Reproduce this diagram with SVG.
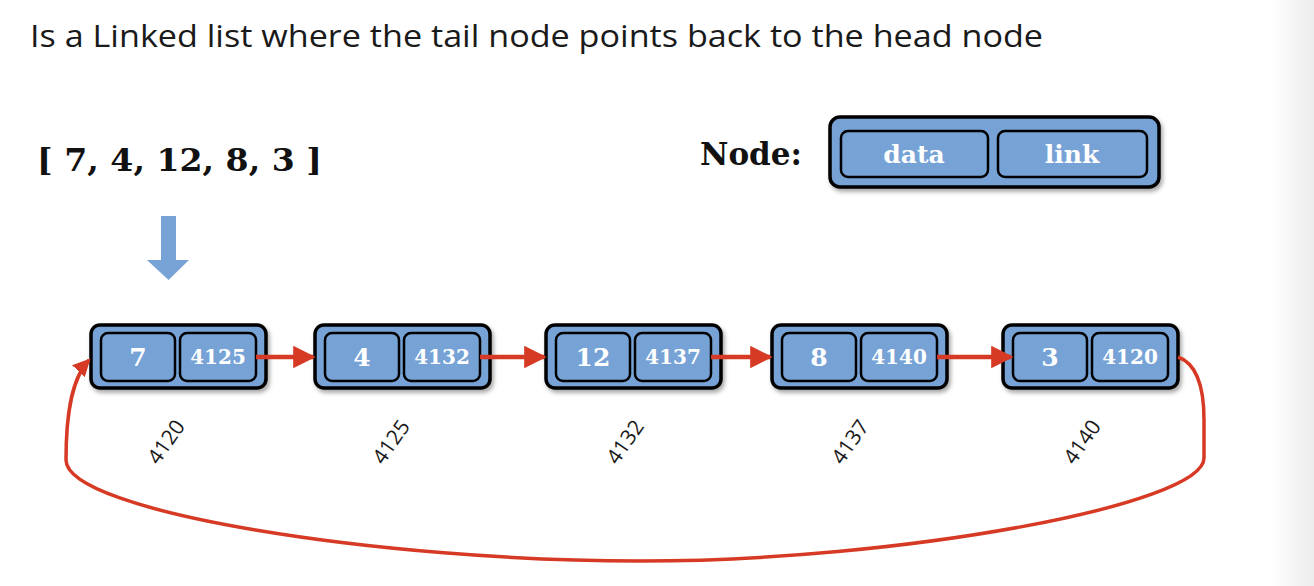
<svg xmlns="http://www.w3.org/2000/svg" width="1314" height="586" viewBox="0 0 1314 586">
<defs>
  <linearGradient id="edge" x1="0" y1="0" x2="1" y2="0">
    <stop offset="0" stop-color="#ffffff"/>
    <stop offset="1" stop-color="#ececec"/>
  </linearGradient>
  <filter id="sh" x="-10%" y="-20%" width="120%" height="150%">
    <feDropShadow dx="2" dy="3" stdDeviation="2" flood-color="#000" flood-opacity="0.35"/>
  </filter>
  <marker id="ah" markerWidth="5" markerHeight="5" refX="4.4" refY="2.5" orient="auto" markerUnits="strokeWidth">
    <path d="M0,0 L5,2.5 L0,5 Z" fill="#d63a24"/>
  </marker>
  <marker id="ah2" markerWidth="5" markerHeight="5" refX="4.4" refY="2.5" orient="auto" markerUnits="strokeWidth">
    <path d="M0,0 L5,2.5 L0,5 Z" fill="#d63a24"/>
  </marker>
  <style>
    .title{font-family:"Open Sans","Noto Sans",sans-serif;font-size:31px;fill:#1a1a1a}
    .big{font-family:"DejaVu Serif",serif;font-weight:bold;font-size:32px;fill:#111}
    .outer{fill:#76a2d6;stroke:#000;stroke-width:3.5;filter:url(#sh)}
    .cell{fill:#76a2d6;stroke:#000;stroke-width:2.5}
    .dv{font-family:"DejaVu Serif",serif;font-weight:bold;font-size:25px;fill:#fff;text-anchor:middle}
    .lv{font-family:"DejaVu Serif",serif;font-weight:bold;font-size:20px;fill:#fff;text-anchor:middle}
    .hd{font-family:"DejaVu Serif",serif;font-weight:bold;font-size:25px;fill:#fff;text-anchor:middle}
    .addr{font-family:"Open Sans","Noto Sans",sans-serif;font-size:21px;fill:#1a1a1a;text-anchor:middle}
    .conn{fill:none;stroke:#d63a24;stroke-width:4.5}
  </style>
</defs>
<rect x="0" y="0" width="1314" height="586" fill="#fff"/>
<rect x="1270" y="0" width="44" height="586" fill="url(#edge)"/>

<text class="title" x="30" y="47" textLength="1013" lengthAdjust="spacingAndGlyphs">Is a Linked list where the tail node points back to the head node</text>
<text class="big" x="37" y="171" textLength="285" lengthAdjust="spacingAndGlyphs">[ 7, 4, 12, 8, 3 ]</text>
<text class="big" x="700" y="165" textLength="102" lengthAdjust="spacingAndGlyphs">Node:</text>

<g id="legend">
  <rect class="outer" x="830" y="117" width="329" height="70" rx="10"/>
  <rect class="cell" x="841" y="131" width="147" height="46" rx="7"/>
  <rect class="cell" x="998" y="131" width="149" height="46" rx="7"/>
  <text class="hd" x="914" y="163">data</text>
  <text class="hd" x="1072" y="163">link</text>
</g>

<g id="down-arrow">
  <path d="M161,216 L176,216 L176,260 L189,260 L168.5,280 L147,260 L161,260 Z" fill="#76a2d6"/>
</g>

<g id="node1">
  <rect class="outer" x="91" y="325" width="175" height="63" rx="9"/>
  <rect class="cell" x="101" y="333" width="74" height="48" rx="7"/>
  <rect class="cell" x="180" y="333" width="76" height="48" rx="7"/>
  <text class="dv" x="138" y="366">7</text>
  <text class="lv" x="218" y="364">4125</text>
  <text class="addr" transform="translate(172,446) rotate(-55)">4120</text>
</g>
<g id="node2">
  <rect class="outer" x="315" y="325" width="175" height="63" rx="9"/>
  <rect class="cell" x="325" y="333" width="74" height="48" rx="7"/>
  <rect class="cell" x="404" y="333" width="76" height="48" rx="7"/>
  <text class="dv" x="362" y="366">4</text>
  <text class="lv" x="442" y="364">4132</text>
  <text class="addr" transform="translate(397,446) rotate(-55)">4125</text>
</g>
<g id="node3">
  <rect class="outer" x="546" y="325" width="175" height="63" rx="9"/>
  <rect class="cell" x="556" y="333" width="74" height="48" rx="7"/>
  <rect class="cell" x="635" y="333" width="76" height="48" rx="7"/>
  <text class="dv" x="593" y="366">12</text>
  <text class="lv" x="673" y="364">4137</text>
  <text class="addr" transform="translate(631,446) rotate(-55)">4132</text>
</g>
<g id="node4">
  <rect class="outer" x="772" y="325" width="175" height="63" rx="9"/>
  <rect class="cell" x="782" y="333" width="74" height="48" rx="7"/>
  <rect class="cell" x="861" y="333" width="76" height="48" rx="7"/>
  <text class="dv" x="819" y="366">8</text>
  <text class="lv" x="899" y="364">4140</text>
  <text class="addr" transform="translate(856,446) rotate(-55)">4137</text>
</g>
<g id="node5">
  <rect class="outer" x="1003" y="325" width="175" height="63" rx="9"/>
  <rect class="cell" x="1013" y="333" width="74" height="48" rx="7"/>
  <rect class="cell" x="1092" y="333" width="76" height="48" rx="7"/>
  <text class="dv" x="1050" y="366">3</text>
  <text class="lv" x="1130" y="364">4120</text>
  <text class="addr" transform="translate(1088,446) rotate(-55)">4140</text>
</g>

<g id="connectors">
  <path class="conn" d="M256,357 L313,357" marker-end="url(#ah)"/>
  <path class="conn" d="M480,357 L544,357" marker-end="url(#ah)"/>
  <path class="conn" d="M711,357 L770,357" marker-end="url(#ah)"/>
  <path class="conn" d="M937,357 L1011,357" marker-end="url(#ah)"/>
  <path class="conn" style="stroke-width:3.5" d="M1178,357 C1198,364 1204,390 1204,420 L1204,458 C1204,505 900,561 640,561 C380,561 66,512 66,460 C66,420 70,380 89,360" marker-end="url(#ah2)"/>
</g>
</svg>
